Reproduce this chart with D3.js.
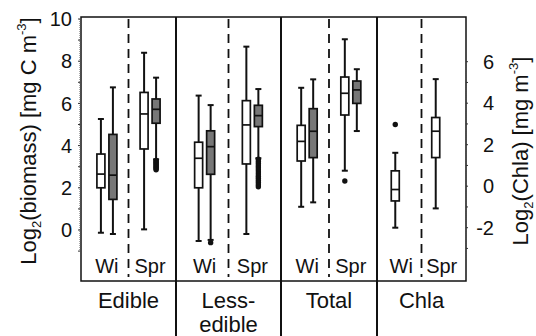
<!DOCTYPE html>
<html>
<head>
<meta charset="utf-8">
<script src="https://cdn.jsdelivr.net/npm/d3@7"></script>
<style>
  body { margin: 0; background: #fff; }
  text { font-family: "Liberation Sans", Arial, sans-serif; fill: #111; }
</style>
</head>
<body>
<svg id="chart" width="536" height="336"></svg>
<script>
// groups along the bottom, seasons inside each group
const groups = ["Edible", "Less-edible", "Total", "Chla"];
const groupLabels = [["Edible"], ["Less-", "edible"], ["Total"], ["Chla"]];
const seasons = ["Wi", "Spr"];

// one entry per box: group, season, kind (white / gray), axis side
const boxGroup  = ["Edible","Edible","Edible","Edible","Less-edible","Less-edible","Less-edible","Less-edible","Total","Total","Total","Total","Chla","Chla"];
const boxSeason = ["Wi","Wi","Spr","Spr","Wi","Wi","Spr","Spr","Wi","Wi","Spr","Spr","Wi","Spr"];
const boxKind   = ["w","g","w","g","w","g","w","g","w","g","w","g","w","w"];
const boxAxis   = ["L","L","L","L","L","L","L","L","L","L","L","L","R","R"];

// box statistics
const whiskLo = [-0.13, -0.19, 0.03, 3.35, -0.52, -0.47, -0.19, 3.40, 1.10, 1.31, 2.81, 4.69, -2.00, -1.07];
const q1      = [ 2.00,  1.45, 3.84, 5.06,  2.00,  2.64,  3.13, 4.90, 3.27, 3.43, 5.45, 6.00, -0.71,  1.38];
const median  = [ 2.65,  2.60, 5.50, 5.72,  3.40,  3.95,  4.98, 5.42, 4.20, 4.68, 6.48, 6.64, -0.16,  2.65];
const q3      = [ 3.60,  4.53, 6.52, 6.21,  4.16,  4.70,  6.13, 5.91, 4.96, 5.75, 7.25, 7.06,  0.74,  3.31];
const whiskHi = [ 5.26,  6.76, 8.40, 7.22,  6.37,  5.92,  8.69, 6.68, 6.74, 7.14, 9.04, 7.62,  1.61,  5.16];
const outliers = [
  [], [], [],
  [3.30, 3.25, 3.20, 3.15, 3.10, 3.05, 3.00, 2.95, 2.90, 2.85],
  [], [-0.60], [],
  [3.35, 3.25, 3.15, 3.05, 2.95, 2.85, 2.75, 2.65, 2.55, 2.45, 2.35, 2.25, 2.15, 2.05],
  [], [], [2.32], [],
  [2.97], []
];

const leftTicks = [0, 2, 4, 6, 8, 10];
const rightTicks = [-2, 0, 2, 4, 6];

// layout
const frame = { left: 81, right: 466, top: 17, bottom: 281 };
const panelEdges = [81, 176, 281, 377, 466];
const svg = d3.select("#chart");

const yL = d3.scaleLinear().domain([0, 10]).range([230, 19]);
const yR = d3.scaleLinear().domain([-2, 6]).range([227.7, 61.7]);
const panelLeft = d3.scaleOrdinal(groups, panelEdges.slice(0, 4));
const panelRight = d3.scaleOrdinal(groups, panelEdges.slice(1));
const seasonX = g => d3.scalePoint(seasons, [panelLeft(g), panelRight(g)]).padding(0.6);
const kindOffset = d3.scaleOrdinal(["w", "g"], [-6, 6]);
const boxW = 8, capW = 6;

// frame and panel dividers
svg.append("rect")
  .attr("x", frame.left).attr("y", frame.top)
  .attr("width", frame.right - frame.left).attr("height", frame.bottom - frame.top)
  .attr("fill", "none").attr("stroke", "#111").attr("stroke-width", 1.5);

svg.selectAll(".divider").data(groups.slice(1)).enter().append("line")
  .attr("x1", d => panelLeft(d)).attr("x2", d => panelLeft(d))
  .attr("y1", frame.top).attr("y2", 336)
  .attr("stroke", "#111").attr("stroke-width", 2);

svg.selectAll(".dash").data(groups).enter().append("line")
  .attr("x1", d => (panelLeft(d) + panelRight(d)) / 2)
  .attr("x2", d => (panelLeft(d) + panelRight(d)) / 2)
  .attr("y1", frame.top + 2).attr("y2", frame.bottom - 4)
  .attr("stroke", "#111").attr("stroke-width", 1.8)
  .attr("stroke-dasharray", "9,6");

// axes (dotted line, small ticks at each unit)
function drawAxis(scale, lo, hi, x, side) {
  const g = svg.append("g");
  g.append("line")
    .attr("x1", x).attr("x2", x)
    .attr("y1", scale(hi)).attr("y2", scale(lo))
    .attr("stroke", "#555").attr("stroke-width", 1)
    .attr("stroke-dasharray", "1,1");
  const minor = d3.range(Math.ceil(lo), Math.floor(hi) + 1);
  g.selectAll(".mt").data(minor).enter().append("line")
    .attr("x1", x).attr("x2", x + side * 2)
    .attr("y1", d => scale(d)).attr("y2", d => scale(d))
    .attr("stroke", "#333").attr("stroke-width", 1);
  return g;
}
drawAxis(yL, -1, 10, frame.left - 1, -1);
drawAxis(yR, -3.5, 6, frame.right, 1);

svg.append("g").selectAll("text").data(leftTicks).enter().append("text")
  .attr("x", 72).attr("y", d => yL(d)).attr("dy", "0.36em")
  .attr("text-anchor", "end").attr("font-size", 20).text(d => d);
svg.append("g").selectAll("text").data(rightTicks).enter().append("text")
  .attr("x", 494).attr("y", d => yR(d)).attr("dy", "0.36em")
  .attr("text-anchor", "end").attr("font-size", 20).text(d => d);

// boxes
const boxes = d3.range(boxGroup.length).map(i => {
  const y = boxAxis[i] === "L" ? yL : yR;
  return {
    i, y,
    cx: seasonX(boxGroup[i])(boxSeason[i]) + kindOffset(boxKind[i]),
    fill: boxKind[i] === "g" ? "#777" : "#fff"
  };
});

const bg = svg.append("g").selectAll("g").data(boxes).enter().append("g");
bg.append("line")
  .attr("x1", d => d.cx).attr("x2", d => d.cx)
  .attr("y1", d => d.y(whiskLo[d.i])).attr("y2", d => d.y(whiskHi[d.i]))
  .attr("stroke", "#111").attr("stroke-width", 2);
bg.selectAll(".cap").data(d => [[d, whiskLo[d.i]], [d, whiskHi[d.i]]]).enter().append("line")
  .attr("x1", p => p[0].cx - capW / 2).attr("x2", p => p[0].cx + capW / 2)
  .attr("y1", p => p[0].y(p[1])).attr("y2", p => p[0].y(p[1]))
  .attr("stroke", "#111").attr("stroke-width", 2);
bg.append("rect")
  .attr("x", d => d.cx - boxW / 2).attr("width", boxW)
  .attr("y", d => d.y(q3[d.i])).attr("height", d => d.y(q1[d.i]) - d.y(q3[d.i]))
  .attr("fill", d => d.fill).attr("stroke", "#111").attr("stroke-width", 1.7);
bg.append("line")
  .attr("x1", d => d.cx - boxW / 2).attr("x2", d => d.cx + boxW / 2)
  .attr("y1", d => d.y(median[d.i])).attr("y2", d => d.y(median[d.i]))
  .attr("stroke", "#111").attr("stroke-width", 1.7);
bg.selectAll(".out").data(d => outliers[d.i].map(v => [d, v])).enter().append("circle")
  .attr("cx", p => p[0].cx).attr("cy", p => p[0].y(p[1]))
  .attr("r", 2.7).attr("fill", "#111");

// season labels
groups.forEach(g => {
  svg.append("g").selectAll("text").data(seasons).enter().append("text")
    .attr("x", s => seasonX(g)(s)).attr("y", 273)
    .attr("text-anchor", "middle").attr("font-size", 20).text(s => s);
});

// group labels
groups.forEach((g, k) => {
  const t = svg.append("text")
    .attr("x", (panelLeft(g) + panelRight(g)) / 2).attr("y", 308)
    .attr("text-anchor", "middle").attr("font-size", 22);
  groupLabels[k].forEach((line, j) => {
    t.append("tspan").attr("x", (panelLeft(g) + panelRight(g)) / 2)
      .attr("dy", j === 0 ? 0 : 24).text(line);
  });
});

// axis titles
const tl = svg.append("text")
  .attr("transform", "translate(36,141) rotate(-90)")
  .attr("text-anchor", "middle").attr("font-size", 22);
tl.append("tspan").text("Log");
tl.append("tspan").attr("font-size", 13).attr("dy", 5).text("2");
tl.append("tspan").attr("dy", -5).text("(biomass) [mg C m");
tl.append("tspan").attr("font-size", 13).attr("dy", -10).text("-3");
tl.append("tspan").attr("dy", 10).text("]");

const tr = svg.append("text")
  .attr("transform", "translate(528,151) rotate(-90)")
  .attr("text-anchor", "middle").attr("font-size", 22);
tr.append("tspan").text("Log");
tr.append("tspan").attr("font-size", 13).attr("dy", 5).text("2");
tr.append("tspan").attr("dy", -5).text("(Chla) [mg m");
tr.append("tspan").attr("font-size", 13).attr("dy", -10).text("-3");
tr.append("tspan").attr("dy", 10).text("]");
</script>
</body>
</html>
